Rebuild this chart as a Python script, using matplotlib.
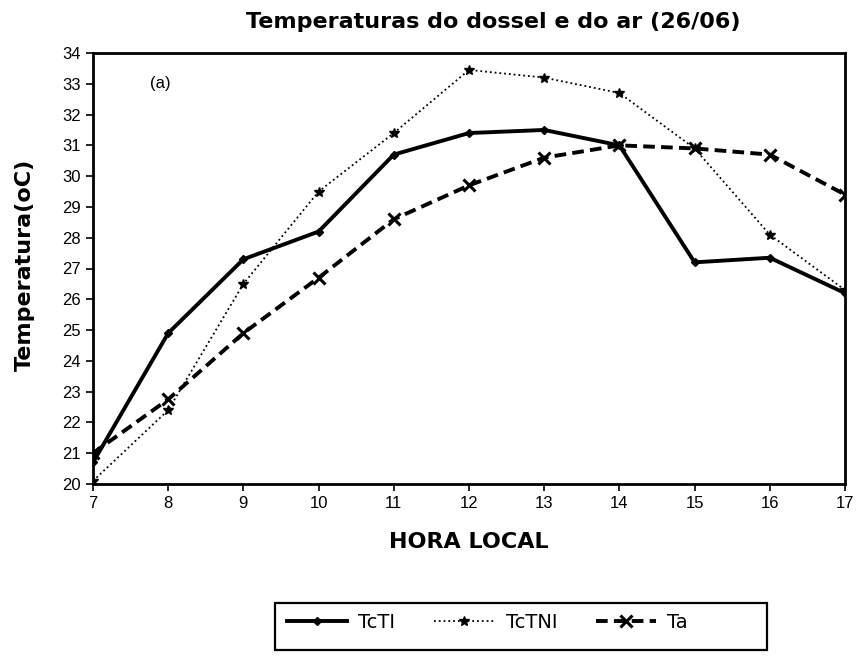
import matplotlib
matplotlib.use("Agg")
import matplotlib.pyplot as plt
from matplotlib.patches import Rectangle

plt.rcParams['font.family'] = ['Liberation Sans', 'DejaVu Sans']

hours = [7, 8, 9, 10, 11, 12, 13, 14, 15, 16, 17]
tc_ti = [20.7, 24.9, 27.3, 28.2, 30.7, 31.4, 31.5, 31.0, 27.2, 27.35, 26.2]
tc_tni = [20.1, 22.4, 26.5, 29.5, 31.4, 33.45, 33.2, 32.7, 30.9, 28.1, 26.3]
ta = [21.0, 22.75, 24.9, 26.7, 28.6, 29.7, 30.6, 31.0, 30.9, 30.7, 29.4]
y_ticks = list(range(20, 35))

W, H = 857, 656
fig = plt.figure(figsize=(W / 100, H / 100), dpi=100)
ax = fig.add_axes([93 / W, 1 - 484 / H, 752 / W, 431 / H])

ax.plot(hours, tc_ti, color='black', linestyle='-', linewidth=2.8,
        marker='D', markersize=4, label='TcTI')
ax.plot(hours, tc_tni, color='black', linestyle=':', linewidth=1.3,
        marker='*', markersize=7, label='TcTNI')
ax.plot(hours, ta, color='black', linestyle=(0, (3, 1.6)), linewidth=2.8,
        marker='x', markersize=8, markeredgewidth=2.2, label='Ta')

ax.set_xlim(7, 17)
ax.set_ylim(20, 34)
ax.set_xticks(hours)
ax.set_yticks(y_ticks)
ax.tick_params(direction='out', length=5, width=1.2, labelsize=12)
for s in ax.spines.values():
    s.set_linewidth(2)

ax.text(7.89, 33.0, '(a)', fontsize=12, ha='center', va='center')

fig.text(493 / W, 1 - 22 / H, 'Temperaturas do dossel e do ar (26/06)',
         fontsize=16, fontweight='bold', family='DejaVu Sans',
         ha='center', va='center')

ax.set_xlabel('HORA LOCAL', fontsize=16, fontweight='bold', family='DejaVu Sans')
ax.xaxis.label.set_va('center')
ax.xaxis.set_label_coords(0.5, (484 - 542) / 431)

ax.set_ylabel('Temperatura(oC)', fontsize=16, fontweight='bold', family='DejaVu Sans')
ax.yaxis.label.set_va('center')
ax.yaxis.set_label_coords((25 - 93) / 752, (484 - 265) / 431)

# legend frame (wider than entries, as in the reference)
fig.patches.append(Rectangle((275 / W, 1 - 650 / H), 492 / W, 47 / H,
                             transform=fig.transFigure, fill=False,
                             edgecolor='black', linewidth=1.6))
leg = fig.legend(loc='center left', bbox_to_anchor=(287 / W, 1 - 622 / H),
                 ncol=3, frameon=False, borderpad=0, borderaxespad=0,
                 prop={'family': 'DejaVu Sans', 'size': 14},
                 handlelength=3.1, handletextpad=0.57, columnspacing=2.0)

fig.savefig('out.png', dpi=100)
